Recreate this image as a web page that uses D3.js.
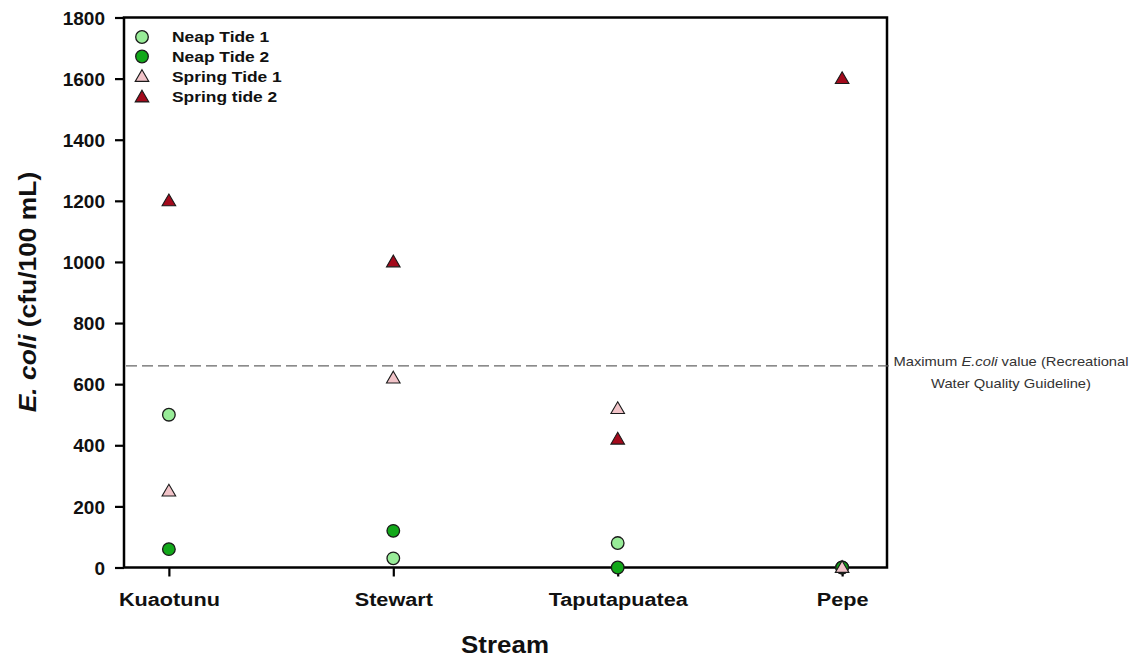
<!DOCTYPE html>
<html><head><meta charset="utf-8">
<script src="https://cdn.jsdelivr.net/npm/d3@7"></script>
<style>
body{margin:0;background:#fff;}
text{font-family:Arial,"Liberation Sans",sans-serif;}
</style></head>
<body><svg id="c" width="1140" height="659"></svg>
<script>
const streams = ["Kuaotunu","Stewart","Taputapuatea","Pepe"];
const neap1 = [500, 30, 80, 0];
const neap2 = [60, 120, 0, 0];
const spring1 = [250, 620, 520, 0];
const spring2 = [1200, 1000, 420, 1600];
const yTicks = [0,200,400,600,800,1000,1200,1400,1600,1800];
const guideline = 660;
const seriesNames = ["Neap Tide 1","Neap Tide 2","Spring Tide 1","Spring tide 2"];

const series = [
  {name:seriesNames[0], values:neap1, shape:"circle", fill:"#98ec98"},
  {name:seriesNames[1], values:neap2, shape:"circle", fill:"#12a81a"},
  {name:seriesNames[2], values:spring1, shape:"triangle", fill:"#f1c3c8"},
  {name:seriesNames[3], values:spring2, shape:"triangle", fill:"#a30a1c"}
];

const svg = d3.select("#c");
const L=124, R=887, T=17.5, B=567.5;
const x = d3.scaleLinear().domain([0.8,4.2]).range([L,R]);
const y = d3.scaleLinear().domain([0,1800]).range([B,T]);

// frame
svg.append("rect").attr("x",L).attr("y",T).attr("width",R-L).attr("height",B-T)
  .attr("fill","none").attr("stroke","#000").attr("stroke-width",2.5);

// y axis
const ya = svg.append("g").attr("transform",`translate(${L},0)`)
  .call(d3.axisLeft(y).tickValues(yTicks).tickSize(9).tickPadding(10).tickFormat(d3.format("d")));
ya.select(".domain").remove();
ya.selectAll("line").attr("stroke","#000").attr("stroke-width",2.2);
ya.selectAll("text").attr("font-size",19).attr("font-weight","bold").attr("fill","#111").attr("dy","0.35em");

// x axis
const xa = svg.append("g").attr("transform",`translate(0,${B})`)
  .call(d3.axisBottom(x).tickValues([1,2,3,4]).tickSize(9).tickPadding(13).tickFormat(()=>""));
xa.select(".domain").remove();
xa.selectAll("line").attr("stroke","#000").attr("stroke-width",2.2);
xa.selectAll(".tick").each(function(d,i){
  d3.select(this).append("text").attr("transform","translate(0,38) scale(1.14,1)")
    .attr("text-anchor","middle").attr("font-size",19).attr("font-weight","bold")
    .attr("fill","#111").text(streams[i]);
});

// guideline
svg.append("line").attr("x1",L+2).attr("x2",R+3).attr("y1",y(guideline)).attr("y2",y(guideline))
  .attr("stroke","#666").attr("stroke-width",1.4).attr("stroke-dasharray","11,5");
const ann = svg.append("text").attr("transform",`translate(1011,${y(guideline)}) scale(1.18,1)`)
  .attr("text-anchor","middle").attr("font-size",12.5).attr("fill","#333");
ann.append("tspan").attr("x",0).attr("dy","0.05em").text("Maximum ");
ann.append("tspan").attr("font-style","italic").text("E.coli");
ann.append("tspan").text(" value (Recreational");
ann.append("tspan").attr("x",0).attr("dy","1.7em").text("Water Quality Guideline)");

// markers
const tri = d3.symbol().type(d3.symbolTriangle).size(80);
function drawMarker(g, s, cx, cy){
  if(s.shape==="circle"){
    g.append("circle").attr("cx",cx).attr("cy",cy).attr("r",6.3)
      .attr("fill",s.fill).attr("stroke","#1a1a1a").attr("stroke-width",1.3);
  } else {
    g.append("path").attr("d",tri).attr("transform",`translate(${cx},${cy+1})`)
      .attr("fill",s.fill).attr("stroke","#1a1a1a").attr("stroke-width",1.1);
  }
}
const pts = svg.append("g");
series.forEach(s=>{
  s.values.forEach((v,i)=>drawMarker(pts, s, x(i+1), y(v)));
});

// legend
const lg = svg.append("g");
const legY = [37, 56.5, 76.5, 97];
series.forEach((s,i)=>{
  drawMarker(lg, s, 142, legY[i]);
  lg.append("text").attr("transform",`translate(172,${legY[i]}) scale(1.2,1)`).attr("dy","0.36em")
    .attr("font-size",14.5).attr("font-weight","bold").attr("fill","#111").text(s.name);
});

// axis titles
svg.append("text").attr("transform","translate(505,653) scale(1.08,1)").attr("text-anchor","middle")
  .attr("font-size",24).attr("font-weight","bold").attr("fill","#111").text("Stream");
const yt = svg.append("text").attr("transform",`translate(36,${292}) rotate(-90) scale(1.1,1)`)
  .attr("text-anchor","middle").attr("font-size",24).attr("font-weight","bold").attr("fill","#111");
yt.append("tspan").attr("font-style","italic").text("E. coli");
yt.append("tspan").text(" (cfu/100 mL)");
</script></body></html>
